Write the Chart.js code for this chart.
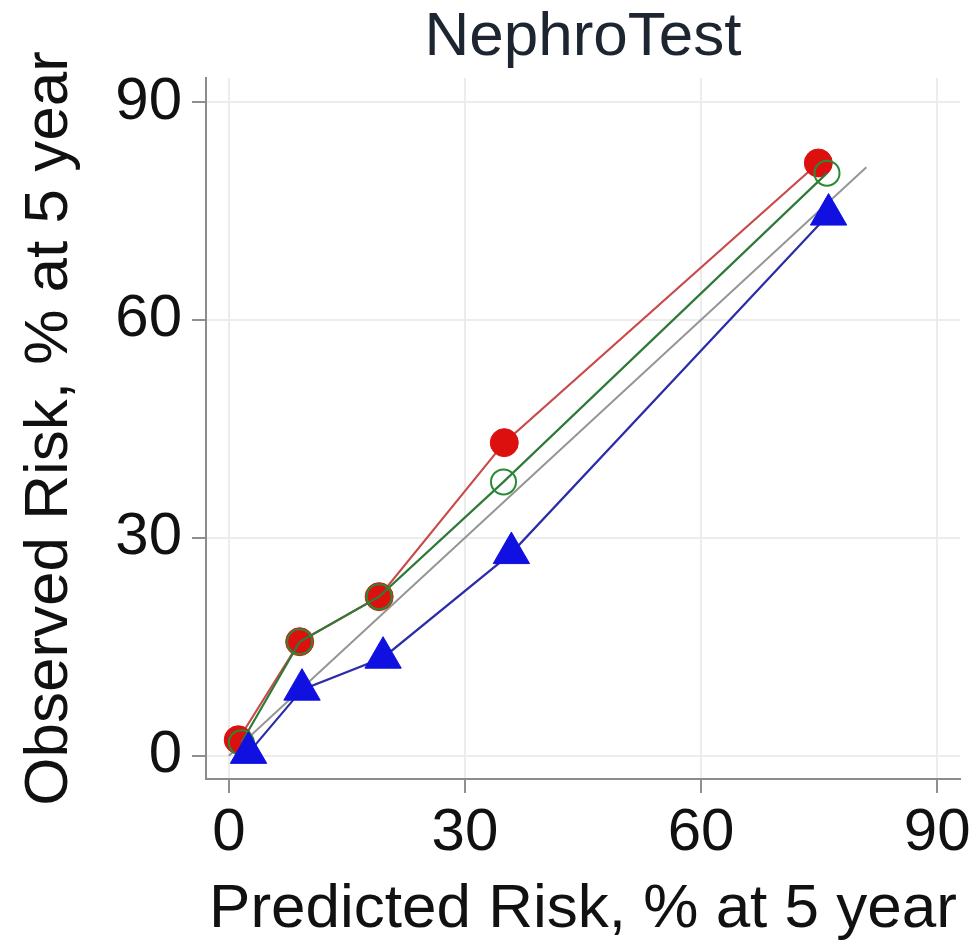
<!DOCTYPE html>
<html><head><meta charset="utf-8">
<script src="https://cdn.jsdelivr.net/npm/chart.js@4.4.1/dist/chart.umd.min.js"></script>
<style>html,body{margin:0;padding:0;background:#fff}canvas{display:block}</style>
</head><body>
<canvas id="c" width="976" height="947"></canvas>
<script>
const titleText = "NephroTest";
const xAxisLabel = "Predicted Risk, % at 5 year";
const yAxisLabel = "Observed Risk, % at 5 year";
const tickValues = [0, 30, 60, 90];
const redPredicted = [1.2, 9.0, 19.1, 35.0, 74.9];
const redObserved = [2.2, 15.7, 21.9, 43.1, 81.6];
const greenPredicted = [1.6, 9.0, 19.1, 34.9, 76.0];
const greenObserved = [1.8, 15.7, 21.9, 37.7, 80.2];
const bluePredicted = [2.5, 9.3, 19.6, 35.9, 76.2];
const blueObserved = [0.4, 9.1, 13.5, 27.9, 74.5];
const diagonalLine = [0, 81];

const pts = (xs, ys) => xs.map((x, i) => ({x: x, y: ys[i]}));
const FONT = "'Liberation Sans', Arial, sans-serif";

new Chart(document.getElementById('c'), {
  type: 'scatter',
  data: {
    datasets: [
      { data: pts(bluePredicted, blueObserved), order: 0, showLine: true,
        borderColor: '#2c2ca8', borderWidth: 2.2,
        pointStyle: 'triangle', pointRadius: 21, pointBackgroundColor: '#1010e0',
        pointBorderColor: '#1010e0', pointBorderWidth: 1 },
      { data: pts(greenPredicted, greenObserved), order: 1, showLine: true,
        borderColor: '#2f7a38', borderWidth: 2.2,
        pointStyle: 'circle', pointRadius: 12.5, pointBackgroundColor: 'rgba(0,0,0,0)',
        pointBorderColor: '#2a8a34', pointBorderWidth: 2 },
      { data: pts(redPredicted, redObserved), order: 2, showLine: true,
        borderColor: '#c84a4a', borderWidth: 2.2,
        pointStyle: 'circle', pointRadius: 14, pointBackgroundColor: '#dd1010',
        pointBorderColor: '#dd1010', pointBorderWidth: 1 },
      { data: pts(diagonalLine, diagonalLine), order: 3, showLine: true,
        borderColor: '#959595', borderWidth: 2, pointRadius: 0 }
    ]
  },
  options: {
    responsive: false,
    animation: false,
    layout: { autoPadding: false, padding: { left: 0, right: 16, top: 0, bottom: 0 } },
    plugins: {
      legend: { display: false },
      tooltip: { enabled: false },
      title: { display: false }
    },
    scales: {
      x: {
        type: 'linear', min: -2.9, max: 92.9,
        afterBuildTicks: s => { s.ticks = tickValues.map(v => ({value: v})); },
        afterFit: s => { s.height = 168; s.paddingLeft = 0; s.paddingRight = 0; },
        ticks: { color: '#111', padding: 4, font: { family: FONT, size: 60 } },
        grid: { color: '#ececec', lineWidth: 2, tickLength: 14, tickColor: '#8f8f8f', tickWidth: 2 },
        border: { display: true, color: '#8c8c8c', width: 2 },
        title: { display: true, text: xAxisLabel, color: '#111',
          font: { family: FONT, size: 62, lineHeight: 1.2 }, padding: { top: 0, bottom: 0 } }
      },
      titleAxis: {
        type: 'linear', position: 'top', axis: 'x', min: -2.9, max: 92.9,
        afterBuildTicks: s => { s.ticks = []; },
        afterFit: s => { s.height = 78; s.paddingLeft = 0; s.paddingRight = 0; },
        ticks: { display: false },
        grid: { display: false, drawTicks: false },
        border: { display: false },
        title: { display: true, text: titleText, color: '#1c2530',
          font: { family: FONT, size: 62, lineHeight: 1.2 }, padding: { top: 1, bottom: 0 } }
      },
      y: {
        type: 'linear', min: -3.2, max: 93.3,
        afterBuildTicks: s => { s.ticks = tickValues.map(v => ({value: v})); },
        afterFit: s => { s.width = 206; s.paddingTop = 0; s.paddingBottom = 0; },
        ticks: { color: '#111', padding: 10, font: { family: FONT, size: 60 } },
        grid: { color: '#ececec', lineWidth: 2, tickLength: 14, tickColor: '#8f8f8f', tickWidth: 2 },
        border: { display: true, color: '#8c8c8c', width: 2 },
        title: { display: true, text: yAxisLabel, color: '#111',
          font: { family: FONT, size: 62, lineHeight: 1.2 }, padding: { top: 13, bottom: 0 } }
      }
    }
  }
});
</script>
</body></html>
